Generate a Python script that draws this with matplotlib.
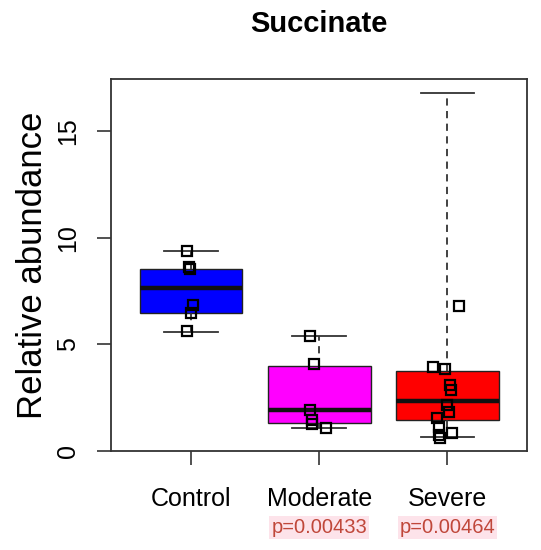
import matplotlib.pyplot as plt
from matplotlib.transforms import blended_transform_factory

plt.rcParams['font.family'] = ['Liberation Sans', 'DejaVu Sans']

groups = ['Control', 'Moderate', 'Severe']
colors = ['#0000ff', '#ff00ff', '#ff0000']
pvals = ['', 'p=0.00433', 'p=0.00464']

# box stats
whislo = [5.6, 1.07, 0.66]
q1 = [6.5, 1.30, 1.44]
med = [7.64, 1.92, 2.36]
q3 = [8.54, 3.99, 3.75]
whishi = [9.4, 5.41, 16.79]

# the sample points (open squares)
control_pts = [9.4, 8.65, 8.55, 6.85, 6.5, 5.63]
moderate_pts = [5.41, 4.07, 1.92, 1.45, 1.25, 1.07]
severe_pts = [6.82, 3.93, 3.84, 3.10, 2.86, 2.16, 1.85, 1.54, 1.14, 0.86, 0.75, 0.61]
points = [control_pts, moderate_pts, severe_pts]

# horizontal jitter of the points
control_jit = [-0.03, -0.015, -0.01, 0.015, 0.0, -0.03]
moderate_jit = [-0.07, -0.04, -0.07, -0.06, -0.06, 0.05]
severe_jit = [0.09, -0.115, -0.02, 0.02, 0.025, -0.005, 0.01, -0.085, -0.065, 0.035, -0.065, -0.06]
jitter = [control_jit, moderate_jit, severe_jit]

fig = plt.figure(figsize=(5.41, 5.50), dpi=100)
ax = fig.add_axes([0.205, 0.18, 0.769, 0.676])

stats = []
for i in range(3):
    stats.append({'whislo': whislo[i], 'q1': q1[i], 'med': med[i], 'q3': q3[i], 'whishi': whishi[i]})

bp = ax.bxp(stats, positions=[1, 2, 3], widths=0.8, capwidths=0.42, patch_artist=True,
            showfliers=False,
            boxprops=dict(linewidth=1.0, edgecolor='#222222'),
            medianprops=dict(color='#111111', linewidth=3.2),
            whiskerprops=dict(color='#333333', linewidth=1.3, linestyle=(0, (4, 3))),
            capprops=dict(color='#333333', linewidth=1.3))
for patch, c in zip(bp['boxes'], colors):
    patch.set_facecolor(c)

for i in range(3):
    xs = [i + 1 + j for j in jitter[i]]
    ax.plot(xs, points[i], 's', markersize=7, markerfacecolor='none',
            markeredgecolor='black', markeredgewidth=1.6, zorder=5)

ax.set_xlim(0.375, 3.62)
ax.set_ylim(0, 17.45)
ax.set_yticks([0, 5, 10, 15])
ax.set_xticks([1, 2, 3])
ax.set_xticklabels(groups, fontsize=18)
ax.tick_params(axis='y', labelsize=18, length=10, width=1.2, pad=12, labelrotation=90, color='#333333')
ax.tick_params(axis='x', length=10, width=1.2, pad=16, color='#333333')
for lbl in ax.get_yticklabels():
    lbl.set_va('center')
for s in ax.spines.values():
    s.set_linewidth(1.3)
    s.set_color('#333333')

ax.set_ylabel('Relative abundance', fontsize=25, labelpad=5)
ax.set_title('Succinate', fontsize=21, fontweight='bold', pad=34)

trans = blended_transform_factory(ax.transData, ax.transAxes)
for i in range(3):
    if pvals[i]:
        ax.text(i + 1, -0.207, pvals[i], transform=trans, ha='center', va='center',
                fontsize=14.5, color='#c0473a',
                bbox=dict(facecolor='#fde3ea', edgecolor='none', pad=1.5))

fig.savefig('out.png', dpi=100)
